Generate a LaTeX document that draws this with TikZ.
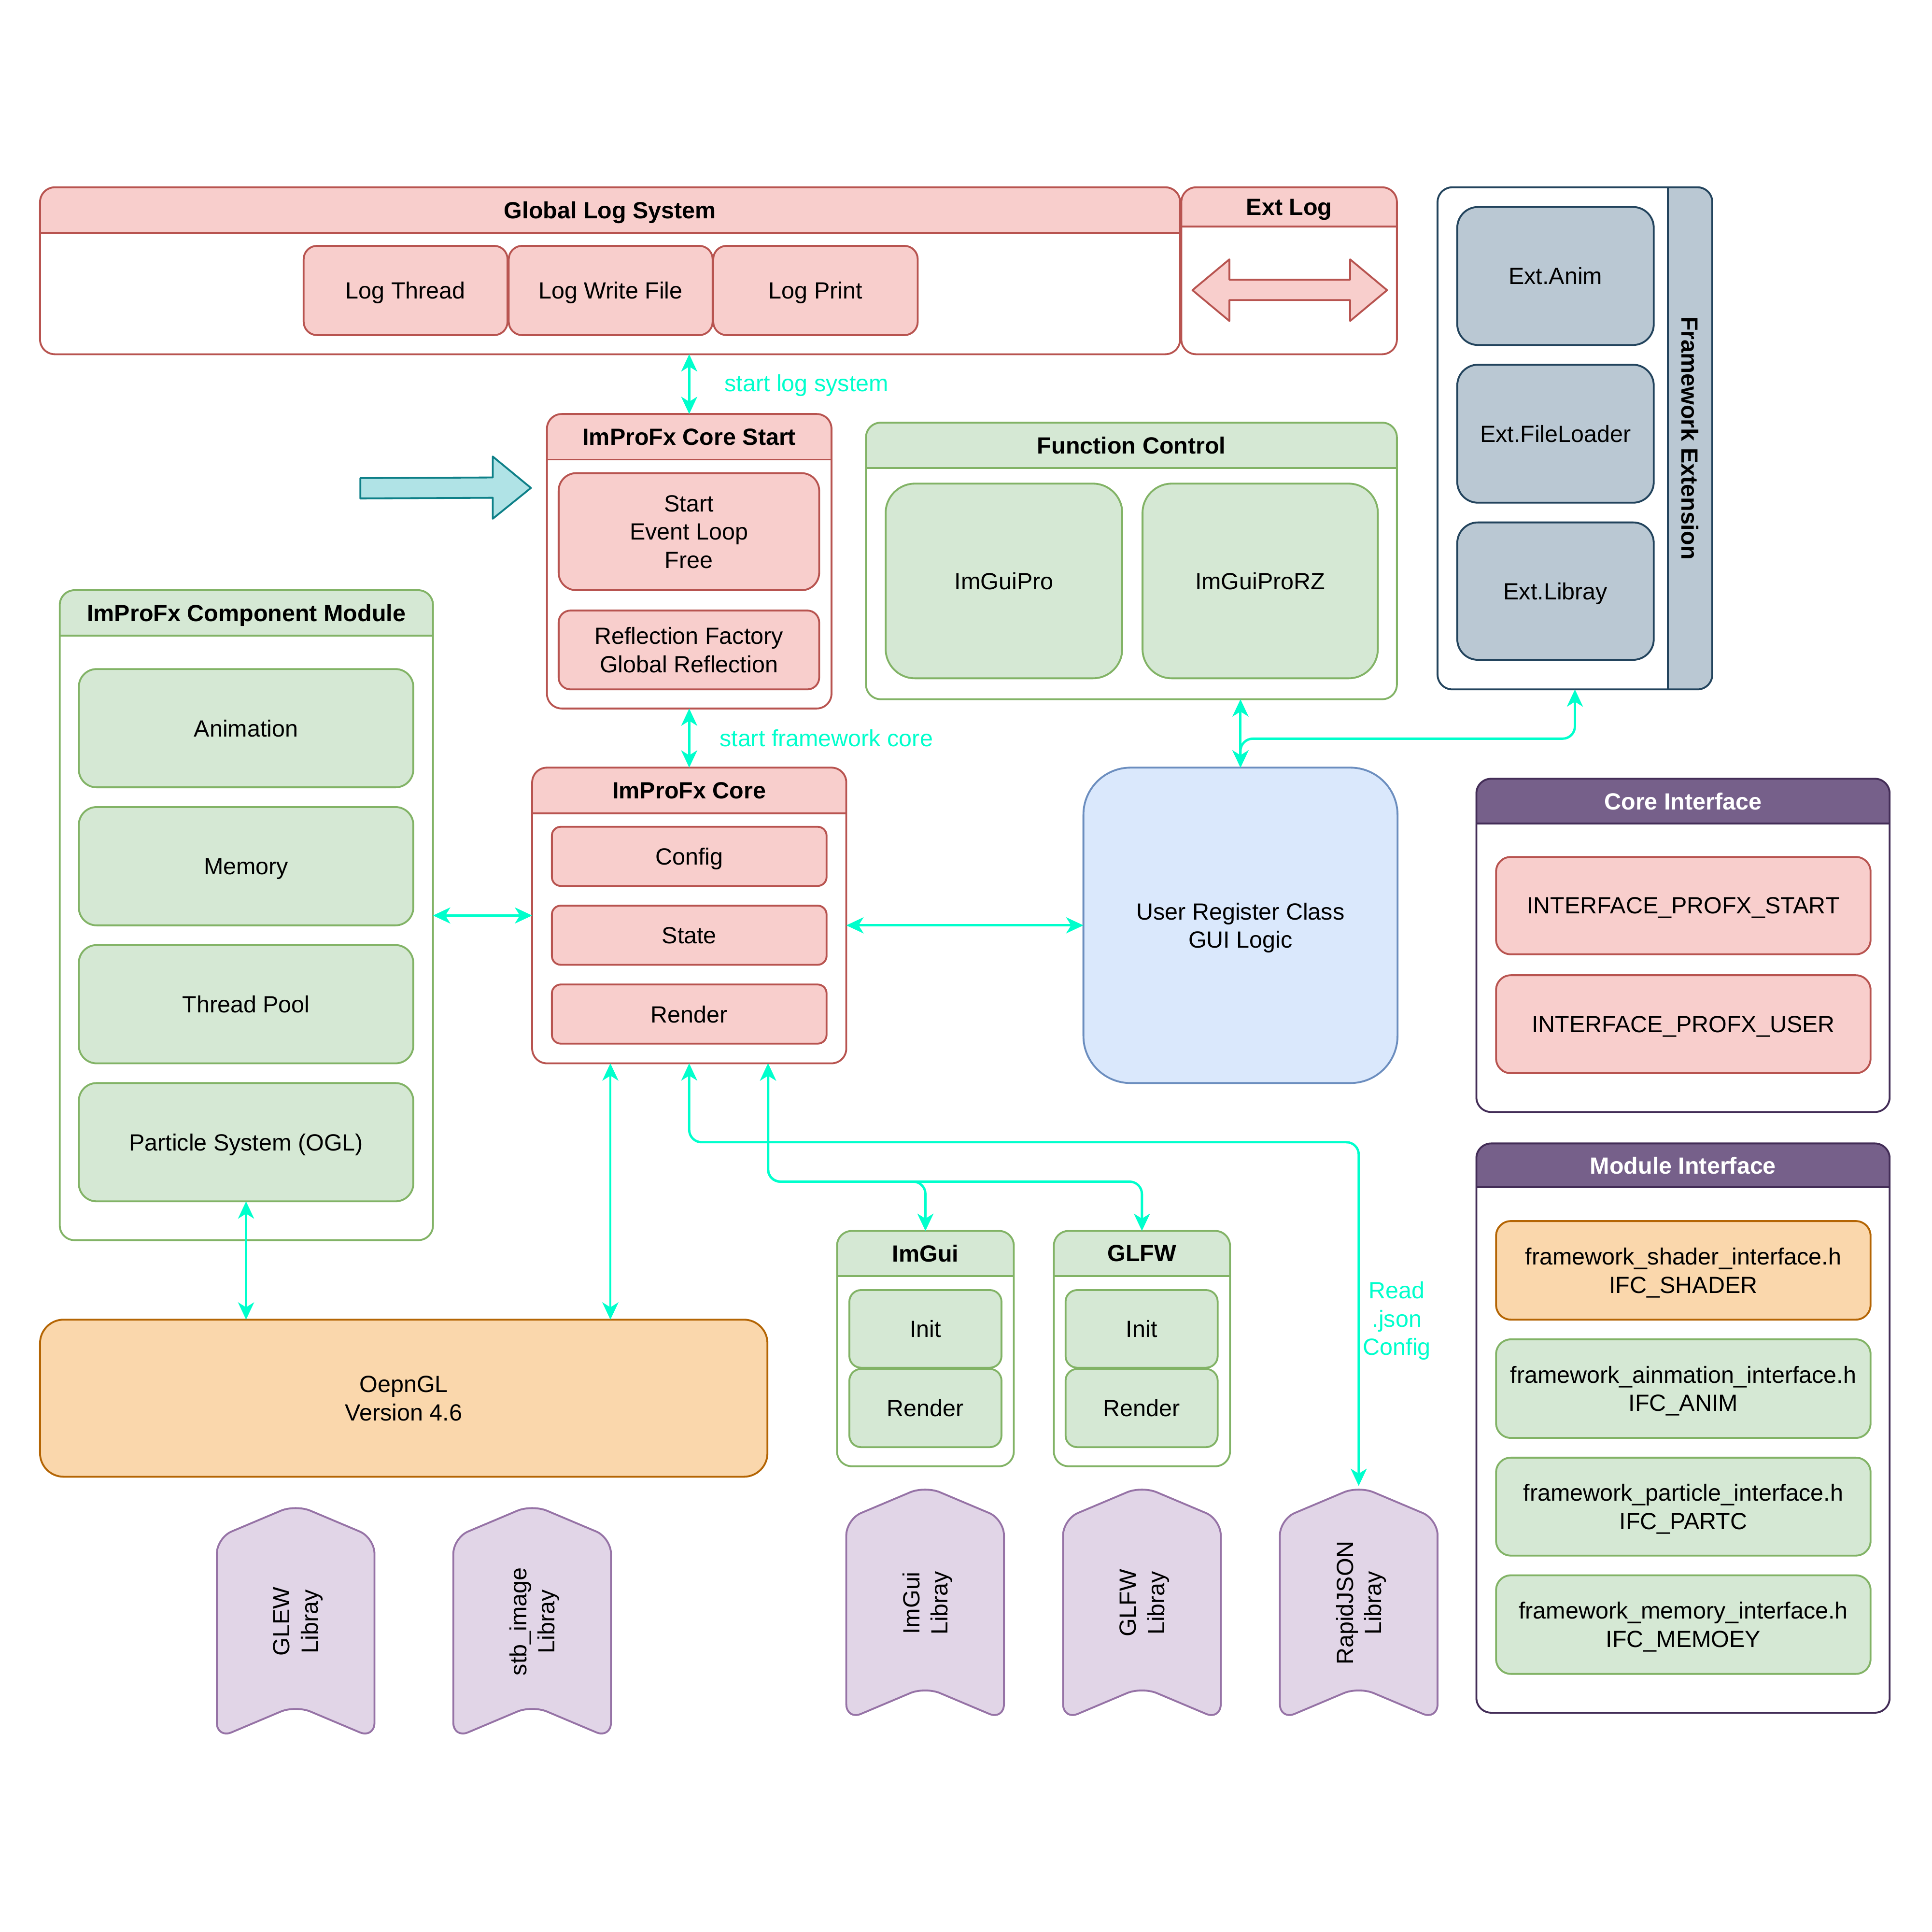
\documentclass[tikz,border=0pt]{standalone}
\usepackage{fontspec}
\setmainfont{Liberation Sans}
\usetikzlibrary{arrows.meta,calc}
\definecolor{rfill}{HTML}{F8CECC}\definecolor{rline}{HTML}{B85450}
\definecolor{gfill}{HTML}{D5E8D4}\definecolor{gline}{HTML}{82B366}
\definecolor{bfill}{HTML}{DAE8FC}\definecolor{bline}{HTML}{6C8EBF}
\definecolor{ofill}{HTML}{FAD7AC}\definecolor{oline}{HTML}{B46504}
\definecolor{pfill}{HTML}{E1D5E7}\definecolor{pline}{HTML}{9673A6}
\definecolor{dpfill}{HTML}{76608A}\definecolor{dpline}{HTML}{432D57}
\definecolor{sfill}{HTML}{BAC8D3}\definecolor{sline}{HTML}{23445D}
\definecolor{tfill}{HTML}{B0E3E6}\definecolor{tline}{HTML}{0E8088}
\definecolor{cyanc}{HTML}{00FFCC}
\newcommand\txtfont{\fontsize{19}{23}\selectfont}
% box from corners
\newcommand\bx[7]{%
  \pgfmathsetmacro\bxw{#5-#3}\pgfmathsetmacro\bxh{#6-#4}\pgfmathsetmacro\bxr{0.15*min(\bxw,\bxh)}%
  \node[box, minimum width=\bxw pt, minimum height=\bxh pt, rounded corners=\bxr pt, #2, anchor=north west] (#1) at (#3,#4) {#7};}
% swimlane container
\newcommand\lane[9]{%
  \pgfmathsetmacro\lnw{#4-#2}\pgfmathsetmacro\lnh{#5-#3}%
  \begin{scope}\clip (#2-3,#3-3) rectangle (#4+3,#3+#6);
    \fill[#7, rounded corners=12pt] (#2,#3) rectangle (#4,#5);\end{scope}
  \node[box, draw=#8, minimum width=\lnw pt, minimum height=\lnh pt, rounded corners=12pt, anchor=north west] (#1) at (#2,#3) {};
  \draw[#8, line width=1.5pt] (#2,#3+#6) -- (#4,#3+#6);
  \node[font=\txtfont\bfseries, inner sep=0pt, text depth=0pt] (#1-t) at ({(#2+#4)/2},{#3+#6/2}) {#9};}
% library chevron
\newcommand\lib[4]{%
  \node[minimum width=128pt, minimum height=190pt, inner sep=0pt, outer sep=0pt, anchor=north west] (#1) at (#2,#3) {};
  \draw[fill=pfill, draw=pline, line width=1.5pt, rounded corners=13pt]
    (#1.east) -- (#1.south east) -- ([yshift=27pt]#1.south) -- (#1.south west)
    -- ([yshift=-27pt]#1.north west) -- (#1.north) -- ([yshift=-27pt]#1.north east) -- cycle;
  \node[rotate=90, align=center, inner sep=0pt, text depth=0pt] (#1-t) at (#1.center) {#4};}
\begin{document}
\begin{tikzpicture}[x=1pt,y=-1pt, font=\txtfont, line join=round,
  box/.style={draw, line width=1.5pt, inner sep=0pt, outer sep=0pt, align=center, text depth=0pt},
  rbox/.style={fill=rfill, draw=rline},
  gbox/.style={fill=gfill, draw=gline},
  bbox/.style={fill=bfill, draw=bline},
  obox/.style={fill=ofill, draw=oline},
  sbox/.style={fill=sfill, draw=sline},
  conn/.style={draw=cyanc, line width=1.9pt, rounded corners=10pt,
    {Stealth[length=14pt,width=13pt,inset=4pt]}-{Stealth[length=14pt,width=13pt,inset=4pt]}},
  lbl/.style={text=cyanc, inner sep=0pt, text depth=0pt}]
\useasboundingbox (0,0) rectangle (1568,1568);

% ---------- containers ----------
\lane{gls}{32.5}{152}{958}{287.5}{37}{rfill}{rline}{Global Log System}
\lane{extlog}{959}{152}{1134}{287.5}{32}{rfill}{rline}{Ext Log}
\lane{cs}{444}{336}{675}{575}{37}{rfill}{rline}{ImProFx Core Start}
\lane{fc}{703}{343}{1134}{567.5}{37}{gfill}{gline}{Function Control}
\lane{comp}{48.5}{479}{351.5}{1006.5}{37}{gfill}{gline}{ImProFx Component Module}
\lane{core}{432}{623}{687}{863}{37}{rfill}{rline}{ImProFx Core}
\lane{imguic}{679.5}{999}{823}{1190}{36.5}{gfill}{gline}{ImGui}
\lane{glfwc}{855.5}{999}{998.5}{1190}{36.5}{gfill}{gline}{GLFW}
\lane{ci}{1198.5}{632}{1534}{902.5}{36.5}{dpfill}{dpline}{\color{white}Core Interface}
\lane{mi}{1198.5}{928}{1534}{1390}{35.5}{dpfill}{dpline}{\color{white}Module Interface}

% Framework Extension
\begin{scope}\clip (1354,140) rectangle (1400,570);
  \fill[sfill, rounded corners=12pt] (1167,152) rectangle (1390,559.5);\end{scope}
\node[box, draw=sline, minimum width=223pt, minimum height=407.5pt, rounded corners=12pt, anchor=north west] (fe) at (1167,152) {};
\draw[sline, line width=1.5pt] (1354,152) -- (1354,559.5);
\node[rotate=-90, font=\txtfont\bfseries, inner sep=0pt] (fe-t) at (1372,355.5) {Framework Extension};

% ---------- boxes ----------
\bx{lt}{rbox}{246.5}{199.5}{412}{272}{Log Thread}
\bx{lwf}{rbox}{413}{199.5}{578.5}{272}{Log Write File}
\bx{lp}{rbox}{579}{199.5}{745}{272}{Log Print}
\bx{sel}{rbox}{453.5}{384}{665}{479}{Start\\Event Loop\\Free}
\bx{rf}{rbox}{453.5}{495.5}{665}{559.5}{Reflection Factory\\Global Reflection}
\bx{igp}{gbox}{719}{392.5}{911}{550.5}{ImGuiPro}
\bx{igprz}{gbox}{927.5}{392.5}{1118.5}{550.5}{ImGuiProRZ}
\bx{ea}{sbox}{1183}{168}{1342.5}{280}{Ext.Anim}
\bx{efl}{sbox}{1183}{296}{1342.5}{408}{Ext.FileLoader}
\bx{el}{sbox}{1183}{424}{1342.5}{535.5}{Ext.Libray}
\bx{anim}{gbox}{64}{543}{335.5}{639}{Animation}
\bx{mem}{gbox}{64}{655}{335.5}{751}{Memory}
\bx{tp}{gbox}{64}{767}{335.5}{863}{Thread Pool}
\bx{ps}{gbox}{64}{879}{335.5}{975}{Particle System (OGL)}
\bx{cfg}{rbox}{448}{671}{671}{719}{Config}
\bx{st}{rbox}{448}{735}{671}{783}{State}
\bx{rd}{rbox}{448}{799}{671}{847}{Render}
\bx{user}{bbox}{879.5}{623}{1134.5}{879}{User Register Class\\GUI Logic}
\bx{gl}{obox}{32.5}{1071}{623}{1198.5}{OepnGL\\Version 4.6}
\bx{igi}{gbox}{689.5}{1047}{813}{1110}{Init}
\bx{igr}{gbox}{689.5}{1111}{813}{1174.5}{Render}
\bx{gfi}{gbox}{865}{1047}{988.5}{1110}{Init}
\bx{gfr}{gbox}{865}{1111}{988.5}{1174.5}{Render}
\bx{ips}{rbox}{1214.5}{695.5}{1518.5}{774.5}{INTERFACE\_PROFX\_START}
\bx{ipu}{rbox}{1214.5}{791.5}{1518.5}{871}{INTERFACE\_PROFX\_USER}
\bx{fsh}{obox}{1214.5}{991}{1518.5}{1071}{framework\_shader\_interface.h\\IFC\_SHADER}
\bx{fan}{gbox}{1214.5}{1087}{1518.5}{1167}{framework\_ainmation\_interface.h\\IFC\_ANIM}
\bx{fpa}{gbox}{1214.5}{1183}{1518.5}{1262.5}{framework\_particle\_interface.h\\IFC\_PARTC}
\bx{fme}{gbox}{1214.5}{1278.5}{1518.5}{1358.5}{framework\_memory\_interface.h\\IFC\_MEMOEY}

% ---------- shapes ----------
\draw[fill=tfill, draw=tline, line width=1.5pt] (292.5,388) -- (400,387.5) -- (400,370.5) -- (431,396)
  -- (400,421) -- (400,404) -- (292.5,404.5) -- cycle;
\draw[fill=rfill, draw=rline, line width=1.5pt] (968,235.5) -- (998,210.5) -- (998,227) -- (1096,227)
  -- (1096,210.5) -- (1126,235.5) -- (1096,260.5) -- (1096,243.5) -- (998,243.5) -- (998,260.5) -- cycle;

\lib{glew}{176}{1221}{GLEW\\Libray}
\lib{stb}{368}{1221}{stb\_image\\Libray}
\lib{imguil}{687}{1206}{ImGui\\Libray}
\lib{glfwl}{863}{1206}{GLFW\\Libray}
\lib{rj}{1039}{1206}{RapidJSON\\Libray}

% ---------- connectors ----------
\draw[conn] (gls.south -| cs.north) -- (cs.north);
\draw[conn] (cs.south) -- (core.north);
\draw[conn] (comp.east |- core.west) -- (core.west);
\draw[conn] (core.east |- user.west) -- (user.west);
\draw[conn] (fc.south -| user.north) -- (user.north);
\draw[conn] (user.north) -- ++(0,-23.5) -| (fe.south);
\draw[conn] (ps.south) -- (ps.south |- gl.north);
\draw[conn] ([xshift=-64pt]core.south) -- ([xshift=-64pt]core.south |- gl.north);
\draw[conn] (core.south) -- ++(0,64) -| (rj.north);
\draw[conn] ([xshift=64pt]core.south) -- ++(0,96) -| (imguic.north);
\draw[conn] ([xshift=64pt]core.south) -- ++(0,96) -| (glfwc.north);

\node[lbl, anchor=west] (l1) at (588,311) {start log system};
\node[lbl, anchor=west] (l2) at (584,599) {start framework core};
\node[lbl, align=center] (l3) at (1134,1070) {Read\\.json\\Config};
\end{tikzpicture}
\end{document}
